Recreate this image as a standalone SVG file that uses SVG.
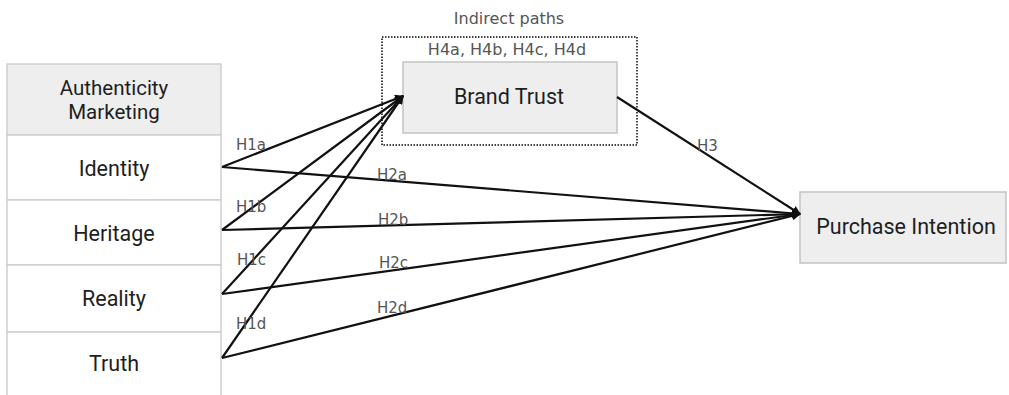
<svg xmlns="http://www.w3.org/2000/svg" width="1009" height="395" viewBox="0 0 1009 395">
<style>
.cell{fill:#ffffff;stroke:#cfcfcf;stroke-width:1.5}
.hdr{fill:#eeeeee;stroke:#cfcfcf;stroke-width:1.5}
.box{fill:#eeeeee;stroke:#c4c4c4;stroke-width:1.5}
.main{font-family:Roboto,"Liberation Sans",sans-serif;font-size:21.5px;fill:#1e1e1e;text-anchor:middle}
.hd{font-size:20.5px}
.lbl{font-family:"DejaVu Sans","Liberation Sans",sans-serif;font-size:15px;fill:#555}
.big{font-family:"DejaVu Sans","Liberation Sans",sans-serif;font-size:16px;fill:#555}
.conn line{stroke:#111;stroke-width:2.2}
</style>
<defs>
<marker id="arr" viewBox="0 0 10 10" refX="9" refY="5" markerWidth="4" markerHeight="4" orient="auto-start-reverse">
<path d="M0,0 L10,5 L0,10 z" fill="#111"/>
</marker>
</defs>
<g id="authenticity-marketing">
<rect class="hdr" x="7" y="64" width="214" height="71"/>
<text class="main hd" x="114" y="95">Authenticity</text>
<text class="main hd" x="114" y="119">Marketing</text>
</g>
<g id="identity">
<rect class="cell" x="7" y="135" width="214" height="65"/>
<text class="main" x="114" y="176">Identity</text>
</g>
<g id="heritage">
<rect class="cell" x="7" y="200" width="214" height="65"/>
<text class="main" x="114" y="241">Heritage</text>
</g>
<g id="reality">
<rect class="cell" x="7" y="265" width="214" height="67"/>
<text class="main" x="114" y="306">Reality</text>
</g>
<g id="truth">
<rect class="cell" x="7" y="332" width="214" height="70"/>
<text class="main" x="114" y="371">Truth</text>
</g>
<g id="indirect-paths">
<rect x="382" y="37" width="255" height="108" fill="none" stroke="#444" stroke-width="2" stroke-dasharray="1.5 1.5"/>
<text class="big" x="509" y="24" text-anchor="middle">Indirect paths</text>
<text class="big" x="507" y="55" text-anchor="middle">H4a, H4b, H4c, H4d</text>
</g>
<g id="brand-trust">
<rect class="box" x="403" y="62" width="214" height="71"/>
<text class="main" x="509" y="104">Brand Trust</text>
</g>
<g id="purchase-intention">
<rect class="box" x="800" y="192" width="206" height="71"/>
<text class="main" x="906" y="234">Purchase Intention</text>
</g>
<g class="conn" id="connectors">
<line x1="222" y1="167" x2="403" y2="96" marker-end="url(#arr)"/>
<line x1="222" y1="230" x2="403" y2="96" marker-end="url(#arr)"/>
<line x1="222" y1="294" x2="403" y2="96" marker-end="url(#arr)"/>
<line x1="222" y1="358" x2="403" y2="96" marker-end="url(#arr)"/>
<line x1="222" y1="167" x2="800" y2="214" marker-end="url(#arr)"/>
<line x1="222" y1="230" x2="800" y2="214" marker-end="url(#arr)"/>
<line x1="222" y1="294" x2="800" y2="214" marker-end="url(#arr)"/>
<line x1="222" y1="358" x2="800" y2="214" marker-end="url(#arr)"/>
<line x1="617" y1="97" x2="800" y2="214" marker-end="url(#arr)"/>
</g>
<g id="labels">
<text class="lbl" x="236" y="150">H1a</text>
<text class="lbl" x="236" y="212">H1b</text>
<text class="lbl" x="237" y="265">H1c</text>
<text class="lbl" x="236" y="329">H1d</text>
<text class="lbl" x="377" y="180">H2a</text>
<text class="lbl" x="378" y="225">H2b</text>
<text class="lbl" x="379" y="268">H2c</text>
<text class="lbl" x="377" y="313">H2d</text>
<text class="lbl" x="697" y="151">H3</text>
</g>
</svg>
